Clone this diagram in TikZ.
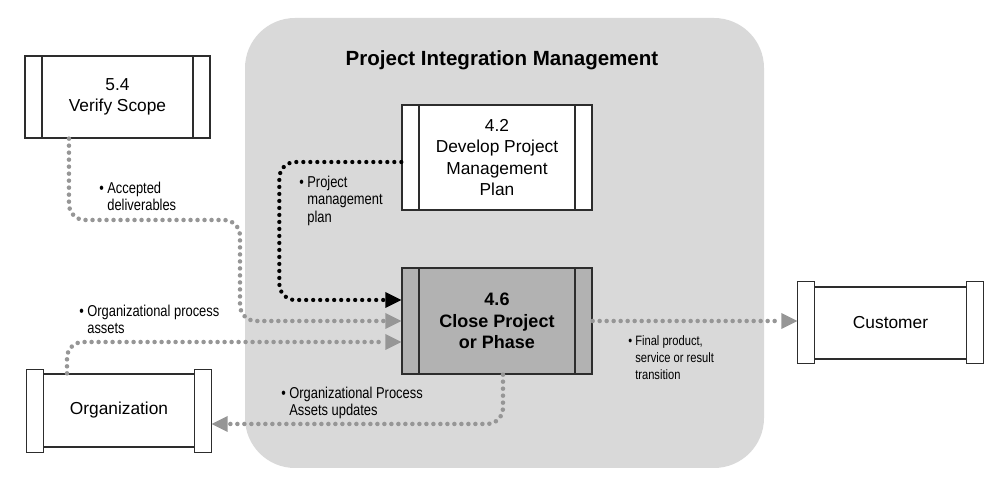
\documentclass[tikz,border=0pt]{standalone}
\usepackage{fontspec}
\setmainfont{Liberation Sans}
\newfontfamily\lblfont[FakeStretch=0.82]{Liberation Sans}
\usepackage{xcolor}
\usepackage{tikz}
\usetikzlibrary{positioning}
\usetikzlibrary{arrows.meta}
\usetikzlibrary{calc}

\definecolor{panelgray}{RGB}{217,217,217}
\definecolor{closegray}{RGB}{178,178,178}
\definecolor{flowgray}{RGB}{150,150,150}
\definecolor{edgegray}{RGB}{45,45,45}

\newcommand{\bitem}[1]{\textbullet\ \begin{tabular}[t]{@{}l@{}}#1\end{tabular}}

\begin{document}
\begin{tikzpicture}
  [
    x=0.75pt, y=-0.75pt,
    proc/.style={draw=edgegray, line width=1pt, fill=white, align=center,
      minimum width=142.5pt, minimum height=79pt, inner sep=0pt,
      font=\fontsize{13}{16}\selectfont,
      path picture={\draw[edgegray, line width=1pt]
        ([xshift=12.75pt]path picture bounding box.north west) --
        ([xshift=12.75pt]path picture bounding box.south west)
        ([xshift=-12.75pt]path picture bounding box.north east) --
        ([xshift=-12.75pt]path picture bounding box.south east);}},
    ext/.style={draw=edgegray, line width=1pt, fill=white,
      minimum width=138.75pt, minimum height=54pt, inner sep=0pt,
      font=\fontsize{13}{16}\selectfont},
    bar/.style={draw=edgegray, line width=1pt, fill=white},
    lbl/.style={anchor=north west, inner sep=0pt, text=black,
      font=\lblfont\fontsize{11.8}{13.1}\selectfont},
    gflow/.style={draw=flowgray, line width=3.4pt, line cap=round,
      dash pattern=on 0pt off 5.25pt, rounded corners=12pt,
      -{Triangle[length=12pt,width=12pt,line width=0pt]}},
    kflow/.style={gflow, draw=black, line width=3.2pt}
  ]
  \useasboundingbox (0,0) rectangle (1008,488);

  % grey panel
  \fill[panelgray, rounded corners=37.5pt] (245,18) rectangle (764,468);
  \node (title) at (502,60)
    [font=\fontsize{15.4}{18}\selectfont\bfseries] {Project Integration Management};

  % processes
  \node (verify) at (117.5,97) [proc, minimum width=138.75pt, minimum height=61.5pt]
    {5.4\\Verify Scope};
  \node (plan) at (497,157.5) [proc, minimum height=78.75pt]
    {4.2\\Develop Project\\Management\\Plan};
  \node (close) at (497,321) [proc, fill=closegray, minimum height=79.5pt,
    font=\fontsize{13.5}{16}\selectfont\bfseries]
    {4.6\\Close Project\\or Phase};

  % outside parties
  \node (org) at (119,410.5) [ext, minimum width=138pt, minimum height=54.75pt] {Organization};
  \node (cust) at (890.5,323) [ext] {Customer};
  \draw[bar] ([yshift=3pt]org.north west) rectangle ([xshift=12.75pt,yshift=-3.75pt]org.south west);
  \draw[bar] ([xshift=-12.75pt,yshift=3pt]org.north east) rectangle ([yshift=-3.75pt]org.south east);
  \draw[bar] ([yshift=3.75pt]cust.north west) rectangle ([xshift=12.75pt,yshift=-3pt]cust.south west);
  \draw[bar] ([xshift=-12.75pt,yshift=3.75pt]cust.north east) rectangle ([yshift=-3pt]cust.south east);

  % flows
  \draw[kflow] ([yshift=-3.4pt]plan.west) -- ++(-122,0) |- ([yshift=15.75pt]close.west);
  \draw[gflow] ([xshift=-36.4pt]verify.south) |- (240,220) |- (close.west);
  \draw[gflow] ([xshift=-39pt]org.north) |- ([yshift=-15.75pt]close.west);
  \draw[gflow] ([xshift=4.5pt]close.south) |- ([yshift=-10.1pt]org.east);
  \draw[gflow] (close.east) -- (close.east -| cust.west);

  % flow labels
  \node[lbl] (lblAccepted) at (99,181) {\bitem{Accepted\\deliverables}};
  \node[lbl] (lblPlan) at (299,175) {\bitem{Project\\management\\plan}};
  \node[lbl] (lblOrgIn) at (79,304) {\bitem{Organizational process\\assets}};
  \node[lbl] (lblOrgOut) at (281,386) {\bitem{Organizational Process\\Assets updates}};
  \node[lbl, font=\lblfont\fontsize{10.2}{12.75}\selectfont] (lblFinal) at (628,333)
    {\bitem{Final product,\\service or result\\transition}};
\end{tikzpicture}
\end{document}
